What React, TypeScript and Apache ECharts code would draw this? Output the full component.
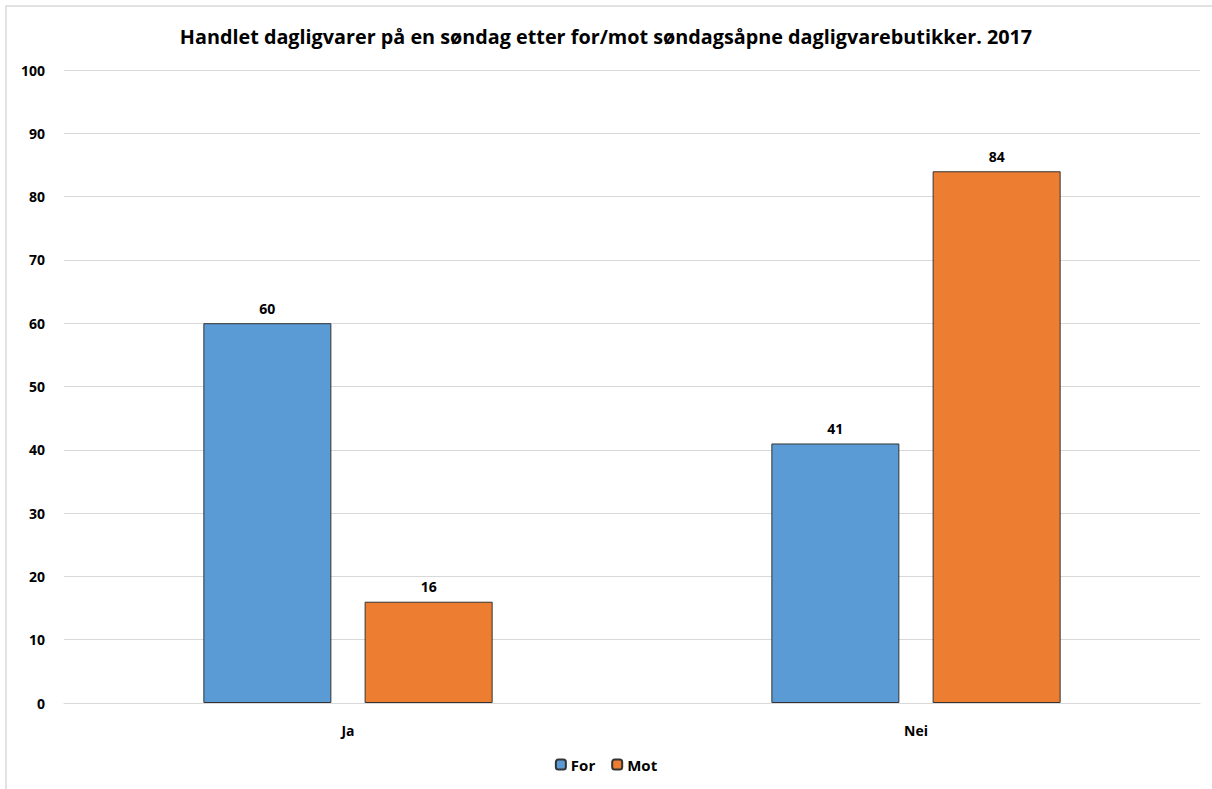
import React, { useEffect, useRef } from "react";
import * as echarts from "echarts";

const categories = ["Ja", "Nei"];
const seriesNames = ["For", "Mot"];
const forValues = [60, 41];
const motValues = [16, 84];
const colors = ["#5B9BD5", "#ED7D31"];

const FONT = "'Open Sans', 'Liberation Sans', sans-serif";

export default function App() {
  const ref = useRef<HTMLDivElement>(null);

  useEffect(() => {
    if (!ref.current) return;
    const chart = echarts.init(ref.current, null, { renderer: "svg" });
    const labelStyle = {
      show: true,
      position: "top" as const,
      distance: 8,
      fontFamily: FONT,
      fontWeight: "bold" as const,
      fontSize: 14,
      color: "#000",
    };
    chart.setOption({
      animation: false,
      backgroundColor: "#fff",
      title: {
        text: "Handlet dagligvarer på en søndag etter for/mot søndagsåpne dagligvarebutikker. 2017",
        left: "center",
        top: 21,
        textStyle: { fontFamily: FONT, fontWeight: "bold", fontSize: 19.8, color: "#000" },
      },
      graphic: [
        {
          type: "rect",
          shape: { x: 6, y: 6, width: 1300, height: 900 },
          style: { fill: "none", stroke: "#d9d9d9", lineWidth: 1.5 },
          silent: true,
        },
      ],
      legend: {
        data: seriesNames,
        bottom: 12,
        left: "center",
        itemWidth: 10,
        itemHeight: 10,
        itemGap: 16,
        textStyle: { fontFamily: FONT, fontWeight: "bold", fontSize: 15, color: "#000" },
      },
      grid: { left: 64, right: 12, top: 70, bottom: 86 },
      xAxis: {
        type: "category",
        data: categories,
        axisTick: { show: false },
        axisLine: { lineStyle: { color: "#d9d9d9" } },
        axisLabel: { fontFamily: FONT, fontWeight: "bold", fontSize: 14, color: "#000", margin: 20 },
      },
      yAxis: {
        type: "value",
        min: 0,
        max: 100,
        interval: 10,
        axisLine: { show: false },
        axisTick: { show: false },
        splitLine: { lineStyle: { color: "#d9d9d9" } },
        axisLabel: { fontFamily: FONT, fontWeight: "bold", fontSize: 14, color: "#000", margin: 19 },
      },
      series: [
        {
          name: seriesNames[0],
          type: "bar",
          data: forValues,
          barWidth: 128,
          barGap: "26%",
          itemStyle: { color: colors[0], borderColor: "#333", borderWidth: 1 },
          label: labelStyle,
        },
        {
          name: seriesNames[1],
          type: "bar",
          data: motValues,
          barWidth: 128,
          itemStyle: { color: colors[1], borderColor: "#333", borderWidth: 1 },
          label: labelStyle,
        },
      ],
    });
    return () => chart.dispose();
  }, []);

  return (
    <div
      ref={ref}
      style={{ position: "fixed", left: 0, top: 0, width: 1212, height: 789 }}
    />
  );
}
